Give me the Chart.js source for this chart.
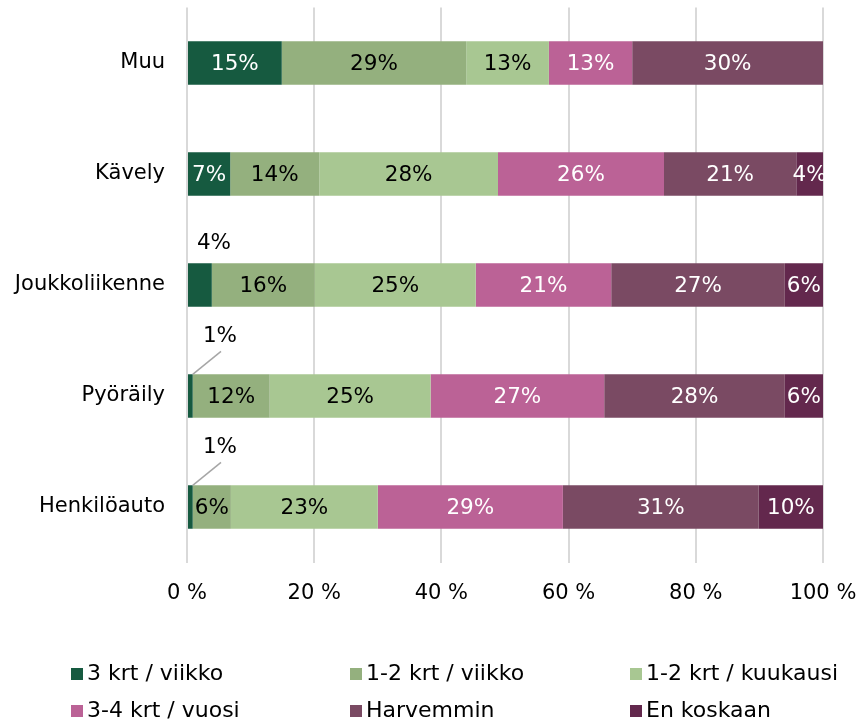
<!DOCTYPE html>
<html>
<head>
<meta charset="utf-8">
<script src="https://cdn.jsdelivr.net/npm/chart.js@4.4.1/dist/chart.umd.min.js"></script>
<style>
  html, body { margin: 0; padding: 0; background: #ffffff; }
  #wrap { width: 861px; height: 723px; position: relative; }
</style>
</head>
<body>
<div id="wrap"><canvas id="c" width="861" height="723"></canvas></div>
<script>
// ---- Data ----
const categories = ["Muu", "Kävely", "Joukkoliikenne", "Pyöräily", "Henkilöauto"];
const seriesNames = ["3 krt / viikko", "1-2 krt / viikko", "1-2 krt / kuukausi", "3-4 krt / vuosi", "Harvemmin", "En koskaan"];
const kolmeKrtViikko   = [14.9, 6.8, 3.9, 0.9, 0.9];
const yksiKaksViikko   = [29.0, 14.0, 16.2, 12.1, 6.0];
const yksiKaksKuukausi = [13.0, 28.1, 25.3, 25.3, 23.1];
const kolmeNeljaVuosi  = [13.1, 26.1, 21.3, 27.3, 29.1];
const harvemmin        = [30.0, 20.8, 27.3, 28.4, 30.8];
const enKoskaan        = [0.0, 4.2, 6.0, 6.0, 10.1];
const xTicks = [0, 20, 40, 60, 80, 100];

const seriesValues = [kolmeKrtViikko, yksiKaksViikko, yksiKaksKuukausi, kolmeNeljaVuosi, harvemmin, enKoskaan];
const colors = ["#165a40", "#94b07e", "#a8c792", "#bb6296", "#7a4a63", "#63284d"];
const labelColors = ["#ffffff", "#000000", "#000000", "#ffffff", "#ffffff", "#ffffff"];
const FONT = "'DejaVu Sans', Verdana, sans-serif";

const datasets = seriesNames.map((name, i) => ({
  label: name,
  data: seriesValues[i],
  backgroundColor: colors[i],
  borderWidth: 0,
  barPercentage: 0.39,
  categoryPercentage: 1.0
}));

const dataLabelPlugin = {
  id: 'dataLabels',
  afterDatasetsDraw(chart) {
    const ctx = chart.ctx;
    ctx.save();
    ctx.font = "21.5px " + FONT;
    ctx.textAlign = 'center';
    ctx.textBaseline = 'middle';
    chart.data.datasets.forEach((ds, di) => {
      const meta = chart.getDatasetMeta(di);
      meta.data.forEach((bar, idx) => {
        const v = ds.data[idx];
        if (!v || v <= 0) return;
        const txt = Math.round(v) + '%';
        const p = bar.getProps(['x', 'y', 'base', 'height'], true);
        const top = p.y - p.height / 2;
        if (di === 0 && v < 2) {
          ctx.strokeStyle = '#a6a6a6';
          ctx.lineWidth = 1.5;
          ctx.beginPath();
          ctx.moveTo(p.x, top);
          ctx.lineTo(p.base + 33, top - 23);
          ctx.stroke();
          ctx.fillStyle = '#000000';
          ctx.fillText(txt, p.base + 32, top - 38);
        } else if (di === 0 && v < 5) {
          ctx.fillStyle = '#000000';
          ctx.fillText(txt, p.base + 26, top - 20);
        } else {
          ctx.fillStyle = labelColors[di];
          ctx.fillText(txt, (p.x + p.base) / 2, p.y + 1);
        }
      });
    });
    ctx.restore();
  }
};

const legendPlugin = {
  id: 'gridLegend',
  afterDraw(chart) {
    const ctx = chart.ctx;
    const colX = [71, 350, 630];
    const rowY = [674, 711];
    ctx.save();
    ctx.font = "22px " + FONT;
    ctx.textAlign = 'left';
    ctx.textBaseline = 'middle';
    chart.data.datasets.forEach((ds, i) => {
      const x = colX[i % 3];
      const y = rowY[Math.floor(i / 3)];
      ctx.fillStyle = ds.backgroundColor;
      ctx.fillRect(x, y - 6, 12, 12);
      ctx.fillStyle = '#000000';
      ctx.fillText(ds.label, x + 16, y);
    });
    ctx.restore();
  }
};

new Chart(document.getElementById('c'), {
  type: 'bar',
  data: { labels: categories, datasets },
  options: {
    indexAxis: 'y',
    responsive: false,
    animation: false,
    devicePixelRatio: 1,
    layout: { padding: { top: 7.5, right: 38, bottom: 100, left: 0 } },
    plugins: {
      legend: { display: false },
      tooltip: { enabled: false }
    },
    scales: {
      x: {
        stacked: true,
        min: 0,
        max: 100,
        afterBuildTicks(scale) { scale.ticks = xTicks.map(v => ({ value: v })); },
        afterFit(scale) {
          scale.height = 60.5;
          scale.paddingLeft = 0; scale.paddingRight = 0;
        },
        grid: { color: '#d9d9d9', lineWidth: 2, drawTicks: false },
        border: { display: false },
        ticks: {
          padding: 18,
          color: '#000000',
          font: { family: FONT, size: 21 },
          callback: v => v + ' %'
        }
      },
      y: {
        stacked: true,
        afterFit(scale) {
          scale.width = 187;
          scale.paddingTop = 0; scale.paddingBottom = 0;
        },
        grid: { display: false, drawTicks: false },
        border: { display: false },
        ticks: {
          padding: 22,
          color: '#000000',
          font: { family: FONT, size: 21 }
        }
      }
    }
  },
  plugins: [dataLabelPlugin, legendPlugin]
});
</script>
</body>
</html>
